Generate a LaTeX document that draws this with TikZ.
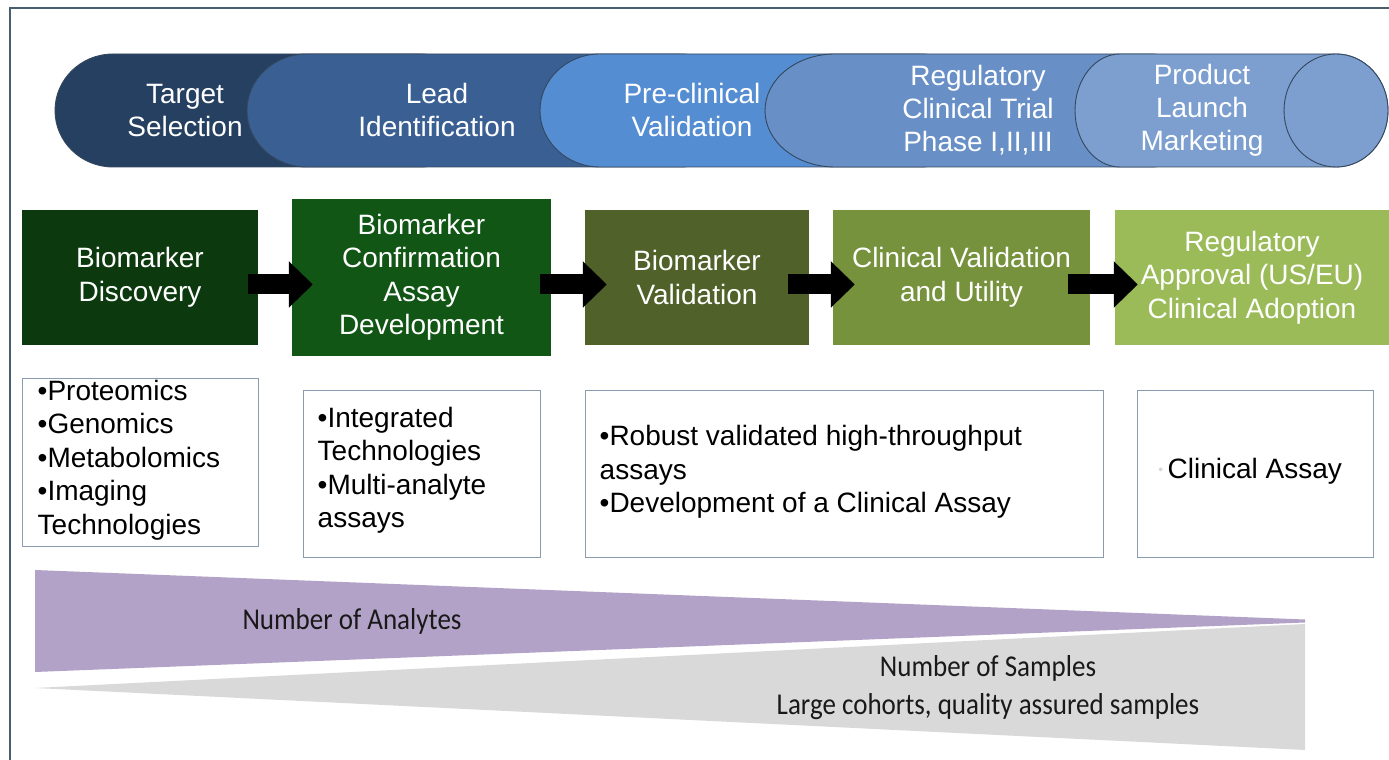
\documentclass[tikz,border=0pt]{standalone}
\usepackage{fontspec}
\setmainfont{Liberation Sans}
\newfontfamily\calibfont{Carlito}
\usetikzlibrary{arrows.meta}
\definecolor{p1}{HTML}{254061}
\definecolor{p2}{HTML}{3A6093}
\definecolor{p3}{HTML}{558DD3}
\definecolor{p4}{HTML}{6890C6}
\definecolor{p5}{HTML}{7C9FD0}
\definecolor{pedge}{HTML}{34475E}
\definecolor{g1}{HTML}{0C3A0E}
\definecolor{g2}{HTML}{125616}
\definecolor{g3}{HTML}{50622A}
\definecolor{g4}{HTML}{76923C}
\definecolor{g5}{HTML}{9BBB59}
\definecolor{tboxedge}{HTML}{8A9BB0}
\definecolor{frame}{HTML}{4A5F6E}
\definecolor{purp}{HTML}{B3A2C7}
\definecolor{grayw}{HTML}{D9D9D9}
\newcommand\mypill[5]{\path[pillstyle, fill=#5] (#1+#3,706) -- (#2,706) arc[start angle=90,end angle=-90,x radius=#4pt,y radius=56.5pt] -- (#1+#3,593) arc[start angle=-90,end angle=-270,x radius=#3pt,y radius=56.5pt] -- cycle;}
\begin{document}
\begin{tikzpicture}[x=1pt,y=1pt,
  pillstyle/.style={draw=pedge, line width=0.9pt},
  pilltext/.style={text=white, align=center, inner sep=0pt, font=\fontsize{28}{33}\selectfont},
  gbox/.style={rectangle, inner sep=0pt, align=center, text=white, font=\fontsize{28}{33.5}\selectfont},
  tbox/.style={rectangle, draw=tboxedge, line width=1pt, fill=white, inner sep=0pt},
  ttext/.style={anchor=west, align=left, inner sep=0pt, text=black, font=\fontsize{28}{33.5}\selectfont},
  blockarrow/.style={line width=20pt, black, -{Triangle[length=24pt,width=45pt]}},
  wtext/.style={inner sep=0pt, text=black!90, font=\calibfont\fontsize{27}{34}\selectfont, align=center}]
\useasboundingbox (0,0) rectangle (1389,760);
\fill[white] (0,0) rectangle (1389,760);
% frame
\draw[frame, line width=1.6pt] (10,0) -- (10,752) -- (1389,752);
% pills
\mypill{55}{420}{58}{58}{p1}
\mypill{247}{680}{60}{60}{p2}
\mypill{540}{920}{60}{60}{p3}
\mypill{765}{1150}{70}{60}{p4}
\mypill{1075}{1336}{45}{52}{p5}
\draw[pillstyle, fill=p5] (1336,649.5) ellipse[x radius=52pt, y radius=56.5pt];
\node[pilltext] (s1) at (185,649.5) {Target\\Selection};
\node[pilltext] (s2) at (437,649.5) {Lead\\Identification};
\node[pilltext] (s3) at (692,649.5) {Pre-clinical\\Validation};
\node[pilltext] (s4) at (978,649.5) {Regulatory\\Clinical Trial\\Phase I,II,III};
\node[pilltext] (s5) at (1202,649.5) {Product\\Launch\\Marketing};
% green boxes
\node[gbox, fill=g1, minimum width=236pt, minimum height=135pt] (b1) at (140,482.5) {Biomarker\\Discovery};
\node[gbox, fill=g2, minimum width=259pt, minimum height=157pt] (b2) at (421.5,482.5) {Biomarker\\Confirmation\\Assay\\Development};
\node[gbox, fill=g3, minimum width=224pt, minimum height=135pt] (b3) at (697,482.5) {Biomarker\\Validation};
\node[gbox, fill=g4, minimum width=257pt, minimum height=135pt] (b4) at (961.5,482.5) {Clinical Validation\\and Utility};
\node[gbox, fill=g5, minimum width=274pt, minimum height=135pt] (b5) at (1252,482.5) {Regulatory\\Approval (US/EU)\\Clinical Adoption};
% arrows
\draw[blockarrow] ([xshift=-10pt,yshift=-7pt]b1.east) -- ([xshift=21pt,yshift=-7pt]b2.west);
\draw[blockarrow] ([xshift=-11pt,yshift=-7pt]b2.east) -- ([xshift=22pt,yshift=-7pt]b3.west);
\draw[blockarrow] ([xshift=-21pt,yshift=-7pt]b3.east) -- ([xshift=22pt,yshift=-7pt]b4.west);
\draw[blockarrow] ([xshift=-22pt,yshift=-7pt]b4.east) -- ([xshift=23pt,yshift=-7pt]b5.west);
% text boxes
\node[tbox, minimum width=236pt, minimum height=168pt] (t1) at (140,297) {};
\node[tbox, minimum width=237pt, minimum height=167pt] (t2) at (421.5,285.5) {};
\node[tbox, minimum width=518pt, minimum height=167pt] (t3) at (844,285.5) {};
\node[tbox, minimum width=236pt, minimum height=167pt] (t4) at (1255,285.5) {};
\node[ttext] (x1) at ([xshift=16pt,yshift=3pt]t1.west) {•Proteomics\\•Genomics\\•Metabolomics\\•Imaging\\Technologies};
\node[ttext] (x2) at ([xshift=15pt,yshift=4pt]t2.west) {•Integrated\\Technologies\\•Multi-analyte\\assays};
\node[ttext] (x3) at ([xshift=15pt,yshift=2.5pt]t3.west) {•Robust validated high-throughput\\assays\\•Development of a Clinical Assay};
\node[ttext] (x4) at ([xshift=31pt,yshift=3.5pt]t4.west) {Clinical Assay};
\node[anchor=east, inner sep=0pt, text=black!15, font=\fontsize{14}{14}\selectfont] (x4b) at ([xshift=-4pt]x4.west) {•};
% wedges
\fill[purp] (35,190) -- (1305,140.5) -- (1305,137.5) -- (35,88) -- cycle;
\fill[grayw] (35,72) -- (1305,136) -- (1305,10) -- cycle;
\node[wtext, yscale=1.12, transform shape] (n1) at (352,139) {Number of Analytes};
\node[wtext, yscale=1.12, transform shape] (n2) at (988,72) {Number of Samples\\Large cohorts, quality assured samples};
\end{tikzpicture}
\end{document}
